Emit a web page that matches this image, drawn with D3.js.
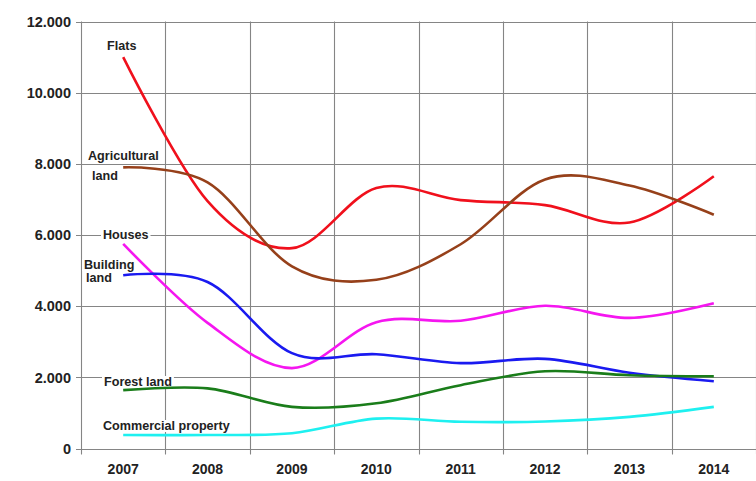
<!DOCTYPE html>
<html>
<head>
<meta charset="utf-8">
<script src="https://cdn.jsdelivr.net/npm/d3@7"></script>
<style>
  html, body { margin: 0; padding: 0; background: #ffffff; }
  svg { display: block; }
  text { font-family: "Liberation Sans", Arial, sans-serif; font-weight: bold; fill: #222; }
</style>
</head>
<body>
<svg id="chart" width="756" height="481"></svg>
<script>
// Yearly values per property type
const years = [2007, 2008, 2009, 2010, 2011, 2012, 2013, 2014];
const flats        = [11000, 6950, 5630, 7320, 6980, 6840, 6350, 7650];
const agricultural = [7900, 7480, 5120, 4740, 5740, 7560, 7390, 6570];
const houses       = [5750, 3530, 2260, 3550, 3590, 4010, 3670, 4080];
const buildingLand = [4870, 4680, 2680, 2650, 2400, 2520, 2130, 1890];
const forestLand   = [1640, 1690, 1170, 1270, 1780, 2170, 2060, 2030];
const commercial   = [380, 380, 430, 840, 750, 760, 890, 1170];
const yTicks = [0, 2000, 4000, 6000, 8000, 10000, 12000];

const series = [
  { name: "Flats", values: flats, color: "#f0101c", label: ["Flats"], lx: 107, ly: 50 },
  { name: "Agricultural land", values: agricultural, color: "#96401a", label: ["Agricultural", "land"], lx: 88, ly: 160, lx2: 92 },
  { name: "Houses", values: houses, color: "#f516f0", label: ["Houses"], lx: 103, ly: 239 },
  { name: "Building land", values: buildingLand, color: "#1a1af0", label: ["Building", "land"], lx: 84, ly: 269, lx2: 86, lh: 13 },
  { name: "Forest land", values: forestLand, color: "#1a7d1a", label: ["Forest land"], lx: 104, ly: 386 },
  { name: "Commercial property", values: commercial, color: "#1ef0f0", label: ["Commercial property"], lx: 103, ly: 430 }
];

const svg = d3.select("#chart");
const plotLeft = 81, plotRight = 756, plotTop = 21.5, plotBottom = 448.5;

const x = d3.scaleBand().domain(years).range([plotLeft, plotRight]).padding(0);
const y = d3.scaleLinear().domain([0, 12000]).range([plotBottom, plotTop]);
const fmt = d3.formatLocale({ decimal: ",", thousands: ".", grouping: [3], currency: ["", ""] }).format(",d");

// Grid: horizontal at each tick, vertical at band boundaries
const bounds = years.map(d => x(d)).concat([plotRight - 0.5]);
svg.append("g").selectAll("line").data(yTicks).join("line")
  .attr("x1", plotLeft - 5).attr("x2", plotRight)
  .attr("y1", d => Math.round(y(d)) + 0.5).attr("y2", d => Math.round(y(d)) + 0.5)
  .attr("stroke", "#858585").attr("stroke-width", 1.1);
svg.append("g").selectAll("line").data(bounds).join("line")
  .attr("x1", d => Math.round(d) + 0.5).attr("x2", d => Math.round(d) + 0.5)
  .attr("y1", plotTop).attr("y2", plotBottom + 6)
  .attr("stroke", "#858585").attr("stroke-width", 1.1);

// Axis labels
svg.append("g").selectAll("text").data(yTicks).join("text")
  .attr("x", 71).attr("y", d => y(d)).attr("dy", "0.36em")
  .attr("text-anchor", "end").style("font-size", "14.5px")
  .text(d => fmt(d));
svg.append("g").selectAll("text").data(years).join("text")
  .attr("x", d => x(d) + x.bandwidth() / 2).attr("y", 474)
  .attr("text-anchor", "middle").style("font-size", "14px")
  .text(d => d);

// Series labels on white boxes
const labels = svg.append("g");
series.forEach(s => {
  s.label.forEach((t, i) => {
    const tx = i === 0 ? s.lx : s.lx2;
    const ty = s.ly + i * (s.lh || 20);
    const txt = labels.append("text").attr("x", tx).attr("y", ty)
      .style("font-size", "12.6px").text(t);
    const bb = txt.node().getBBox();
    labels.insert("rect", "text:last-child")
      .attr("x", bb.x - 2).attr("y", bb.y + 1).attr("width", bb.width + 4).attr("height", bb.height - 2)
      .attr("fill", "#ffffff");
  });
});

// Smoothed lines
const line = d3.line()
  .x((d, i) => x(years[i]) + x.bandwidth() / 2)
  .y(d => y(d))
  .curve(d3.curveCatmullRom.alpha(0));
svg.append("g").selectAll("path").data(series).join("path")
  .attr("d", d => line(d.values))
  .attr("fill", "none").attr("stroke", d => d.color)
  .attr("stroke-width", 2.6).attr("stroke-linejoin", "round");
</script>
</body>
</html>
